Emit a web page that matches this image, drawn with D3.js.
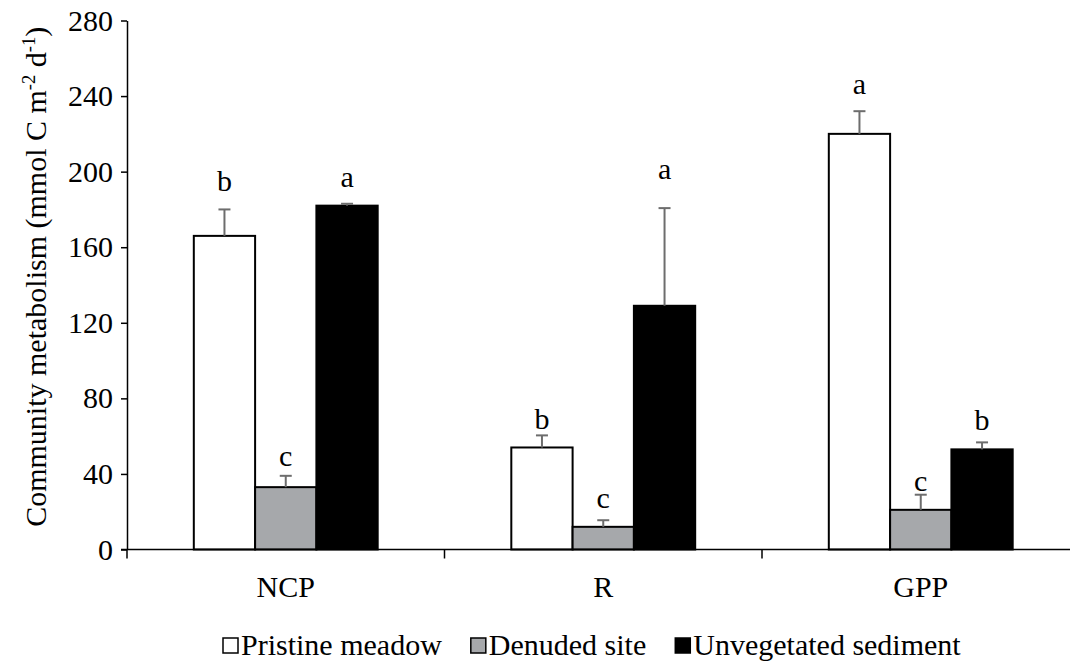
<!DOCTYPE html>
<html>
<head>
<meta charset="utf-8">
<script src="https://cdn.jsdelivr.net/npm/d3@7"></script>
<style>
  body { margin: 0; background: #fff; }
  svg { display: block; }
  svg text { font-family: "Liberation Serif", "Times New Roman", serif; }
</style>
</head>
<body>
<svg width="1070" height="666"></svg>
<script>
const categories = ['NCP', 'R', 'GPP'];
const series = ['Pristine meadow', 'Denuded site', 'Unvegetated sediment'];
// mean values per series, in category order
const pristine = [166, 54, 220];
const denuded = [33, 12, 21];
const unvegetated = [182, 129, 53];
// standard errors
const pristineErr = [14, 6.4, 12];
const denudedErr = [6, 3.5, 8];
const unvegetatedErr = [1, 51.7, 3.7];
// significance letters and the value at which they sit
const pristineLetters = ['b', 'b', 'a'];
const denudedLetters = ['c', 'c', 'c'];
const unvegetatedLetters = ['a', 'a', 'b'];
const pristineLetterAt = [190, 64, 241];
const denudedLetterAt = [44, 22, 31];
const unvegetatedLetterAt = [192, 196, 63];
const yTicks = [0, 40, 80, 120, 160, 200, 240, 280];

const fills = ['#ffffff', '#a6a8ab', '#000000'];
const fontSize = 30;
const serif = '"Liberation Serif", "Times New Roman", serif';

const svg = d3.select('svg');
const x0 = 127, y0 = 549.5;

const values = [pristine, denuded, unvegetated];
const errs = [pristineErr, denudedErr, unvegetatedErr];
const letters = [pristineLetters, denudedLetters, unvegetatedLetters];
const letterAt = [pristineLetterAt, denudedLetterAt, unvegetatedLetterAt];

const rows = [];
series.forEach((s, si) => {
  categories.forEach((c, ci) => {
    rows.push({ s, si, c, v: values[si][ci], e: errs[si][ci],
      l: letters[si][ci], la: letterAt[si][ci] });
  });
});

const x = d3.scaleBand()
  .domain(categories)
  .range([x0, x0 + 3 * 317.5]);

const xs = d3.scaleBand()
  .domain(series)
  .range([0, x.bandwidth()])
  .paddingOuter(1.09);

const y = d3.scaleLinear()
  .domain([0, 280])
  .range([y0, 20.5]);

// bars
const g = svg.append('g');
g.selectAll('rect.bar')
  .data(rows)
  .join('rect')
  .attr('class', 'bar')
  .attr('x', d => x(d.c) + xs(d.s))
  .attr('y', d => y(d.v))
  .attr('width', xs.bandwidth())
  .attr('height', d => y(0) - y(d.v))
  .attr('fill', d => fills[d.si])
  .attr('stroke', '#000')
  .attr('stroke-width', 2);

// error bars
const eb = g.selectAll('g.err')
  .data(rows)
  .join('g')
  .attr('class', 'err')
  .attr('stroke', '#6d6d6d')
  .attr('stroke-width', 2);
eb.append('line')
  .attr('x1', d => x(d.c) + xs(d.s) + xs.bandwidth() / 2)
  .attr('x2', d => x(d.c) + xs(d.s) + xs.bandwidth() / 2)
  .attr('y1', d => y(d.v))
  .attr('y2', d => y(d.v + d.e));
eb.append('line')
  .attr('x1', d => x(d.c) + xs(d.s) + xs.bandwidth() / 2 - 6)
  .attr('x2', d => x(d.c) + xs(d.s) + xs.bandwidth() / 2 + 6)
  .attr('y1', d => y(d.v + d.e))
  .attr('y2', d => y(d.v + d.e));

// letters
g.selectAll('text.letter')
  .data(rows)
  .join('text')
  .attr('class', 'letter')
  .attr('x', d => x(d.c) + xs(d.s) + xs.bandwidth() / 2)
  .attr('y', d => y(d.la))
  .attr('text-anchor', 'middle')
  .attr('font-size', fontSize)
  .text(d => d.l);

// y axis
const yAxis = svg.append('g')
  .attr('transform', `translate(${x0},0)`)
  .call(d3.axisLeft(y).tickValues(yTicks).tickSize(6).tickSizeOuter(0).tickPadding(8))
  .attr('font-family', serif)
  .attr('font-size', fontSize);
yAxis.selectAll('text').attr('fill', '#000');
yAxis.selectAll('line, path').attr('stroke', '#000').attr('stroke-width', 1.5);

// x axis: ticks at band boundaries
const xAxis = svg.append('g');
xAxis.append('line')
  .attr('x1', x0 - 6).attr('x2', x.range()[1])
  .attr('y1', y0).attr('y2', y0)
  .attr('stroke', '#000').attr('stroke-width', 1.5);
xAxis.selectAll('line.tick')
  .data(categories)
  .join('line')
  .attr('class', 'tick')
  .attr('x1', d => x(d)).attr('x2', d => x(d))
  .attr('y1', y0).attr('y2', y0 + 9)
  .attr('stroke', '#000').attr('stroke-width', 1.5);
xAxis.selectAll('text')
  .data(categories)
  .join('text')
  .attr('x', d => x(d) + x.bandwidth() / 2)
  .attr('y', 597)
  .attr('text-anchor', 'middle')
  .attr('font-size', fontSize)
  .text(d => d);

// y axis title
const title = svg.append('text')
  .attr('transform', `translate(46,${(y0 + 20) / 2 - 8}) rotate(-90)`)
  .attr('text-anchor', 'middle')
  .attr('font-size', fontSize);
title.append('tspan').text('Community metabolism (mmol C m');
title.append('tspan').attr('font-size', fontSize * 0.62).attr('dy', -11).text('-2');
title.append('tspan').attr('dy', 11).text(' d');
title.append('tspan').attr('font-size', fontSize * 0.62).attr('dy', -11).text('-1');
title.append('tspan').attr('dy', 11).text(')');

// legend
const legend = svg.append('g').attr('transform', 'translate(222,655)');
let lx = 0;
series.forEach((s, i) => {
  const item = legend.append('g').attr('transform', `translate(${lx},0)`);
  item.append('rect')
    .attr('x', 1).attr('y', -17)
    .attr('width', 15).attr('height', 15)
    .attr('fill', fills[i]).attr('stroke', '#000').attr('stroke-width', 1.5);
  const t = item.append('text')
    .attr('x', 19).attr('font-size', fontSize)
    .text(s);
  lx += 19 + t.node().getComputedTextLength() + 28;
});
</script>
</body>
</html>
